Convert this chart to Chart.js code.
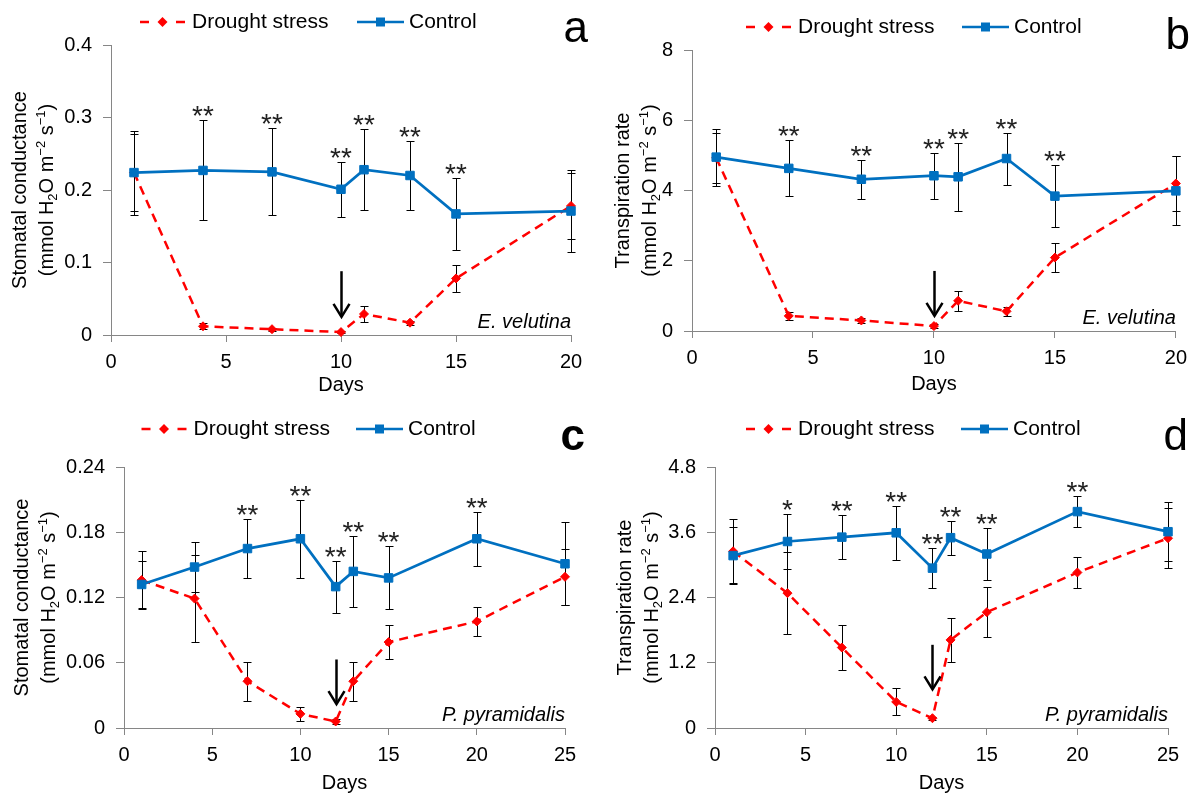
<!DOCTYPE html>
<html><head><meta charset="utf-8">
<script src="https://cdn.jsdelivr.net/npm/chart.js@4.4.1/dist/chart.umd.min.js"></script>
<style>
html,body{margin:0;padding:0;background:#fff;}
body{width:1195px;height:796px;position:relative;overflow:hidden;}
canvas{position:absolute;}
</style></head><body>
<canvas id="ca" width="597" height="398" style="left:0px;top:0px"></canvas>
<canvas id="cb" width="598" height="398" style="left:597px;top:0px"></canvas>
<canvas id="cc" width="597" height="398" style="left:0px;top:398px"></canvas>
<canvas id="cd" width="598" height="398" style="left:597px;top:398px"></canvas>
<script>
// ---------- data ----------
const seriesNames = ['Drought stress', 'Control'];
const xTitle = 'Days';

const daysAB = [1, 4, 7, 10, 11, 13, 15, 20];
const daysCD = [1, 4, 7, 10, 12, 13, 15, 20, 25];

// (a) E. velutina, stomatal conductance
const ctrlA    = [0.224, 0.227, 0.225, 0.201, 0.228, 0.220, 0.167, 0.171];
const ctrlAErr = [0.058, 0.069, 0.060, 0.038, 0.056, 0.048, 0.050, 0.057];
const drA      = [0.224, 0.012, 0.008, 0.004, 0.029, 0.017, 0.078, 0.178];
const drAErr   = [0.053, 0.004, 0.002, 0.001, 0.011, 0.003, 0.018, 0.045];
const sigA     = ['', '**', '**', '**', '**', '**', '**', ''];

// (b) E. velutina, transpiration rate
const ctrlB    = [4.95, 4.63, 4.32, 4.42, 4.39, 4.91, 3.84, 3.99];
const ctrlBErr = [0.81, 0.80, 0.55, 0.65, 0.97, 0.74, 0.89, 0.98];
const drB      = [4.93, 0.43, 0.30, 0.14, 0.86, 0.56, 2.09, 4.20];
const drBErr   = [0.71, 0.12, 0.06, 0.05, 0.28, 0.13, 0.42, 0.78];
const sigB     = ['', '**', '**', '**', '**', '**', '**', ''];

// (c) P. pyramidalis, stomatal conductance
const ctrlC    = [0.132, 0.148, 0.165, 0.174, 0.130, 0.144, 0.138, 0.174, 0.151];
const ctrlCErr = [0.022, 0.023, 0.027, 0.036, 0.024, 0.033, 0.029, 0.025, 0.038];
const drC      = [0.136, 0.119, 0.043, 0.013, 0.006, 0.043, 0.079, 0.098, 0.139];
const drCErr   = [0.027, 0.040, 0.018, 0.0065, 0.002, 0.018, 0.016, 0.013, 0.026];
const sigC     = ['', '', '**', '**', '**', '**', '**', '**', ''];

// (d) P. pyramidalis, transpiration rate
const ctrlD    = [3.17, 3.43, 3.51, 3.59, 2.94, 3.50, 3.20, 3.98, 3.61];
const ctrlDErr = [0.53, 0.51, 0.40, 0.50, 0.37, 0.31, 0.48, 0.29, 0.54];
const drD      = [3.25, 2.48, 1.48, 0.48, 0.18, 1.62, 2.13, 2.86, 3.49];
const drDErr   = [0.59, 0.76, 0.41, 0.25, 0.03, 0.41, 0.46, 0.28, 0.55];
const sigD     = ['', '*', '**', '**', '**', '**', '**', '**', ''];

// tick values / labels
const xTicksAB = [0, 5, 10, 15, 20];
const xTicksCD = [0, 5, 10, 15, 20, 25];
const yTicksA = [0, 0.1, 0.2, 0.3, 0.4];   const yLabelsA = ['0', '0.1', '0.2', '0.3', '0.4'];
const yTicksB = [0, 2, 4, 6, 8];           const yLabelsB = ['0', '2', '4', '6', '8'];
const yTicksC = [0, 0.06, 0.12, 0.18, 0.24]; const yLabelsC = ['0', '0.06', '0.12', '0.18', '0.24'];
const yTicksD = [0, 1.2, 2.4, 3.6, 4.8];   const yLabelsD = ['0', '1.2', '2.4', '3.6', '4.8'];

// arrows marking re-watering: [day, top value, tip value]
const arrowA = [10, 0.088, 0.025];
const arrowB = [10, 1.71, 0.43];
const arrowC = [12, 0.063, 0.022];
const arrowD = [12, 1.53, 0.71];

const titleGs = 'Stomatal conductance';
const titleTr = 'Transpiration rate';
const unitParts = [['(mmol H', 'n'], ['2', 'sub'], ['O m', 'n'], ['\u22122', 'sup'], [' s', 'n'], ['\u22121', 'sup'], [')', 'n']];

// ---------- styling ----------
const FONT = "'Liberation Sans', Arial, Helvetica, sans-serif";
const RED = '#FF0000';
const BLUE = '#0070C0';
const AXIS = '#868686';
Chart.defaults.font.family = FONT;
Chart.defaults.font.size = 20;
Chart.defaults.color = '#000';

function drawErr(chart, xs, ys, errs) {
  const ctx = chart.ctx, X = chart.scales.x, Y = chart.scales.y;
  ctx.save();
  ctx.strokeStyle = '#000'; ctx.lineWidth = 1;
  for (let i = 0; i < xs.length; i++) {
    const px = Math.round(X.getPixelForValue(xs[i])) + 0.5;
    const t = Math.round(Y.getPixelForValue(ys[i] + errs[i])) + 0.5;
    const b = Math.round(Y.getPixelForValue(ys[i] - errs[i])) + 0.5;
    ctx.beginPath();
    ctx.moveTo(px, t); ctx.lineTo(px, b);
    ctx.moveTo(px - 4, t); ctx.lineTo(px + 4, t);
    ctx.moveTo(px - 4, b); ctx.lineTo(px + 4, b);
    ctx.stroke();
  }
  ctx.restore();
}

function richWidth(ctx, parts) {
  let w = 0;
  for (const [t, m] of parts) {
    ctx.font = (m === 'n' ? '20px ' : '13px ') + FONT;
    w += ctx.measureText(t).width;
  }
  return w;
}

function overlay(p) {
  return {
    id: 'ov_' + p.id,
    beforeDatasetsDraw(chart) {
      drawErr(chart, p.days, p.dr, p.drErr);
      drawErr(chart, p.days, p.ctrl, p.ctrlErr);
    },
    afterDraw(chart) {
      const ctx = chart.ctx, X = chart.scales.x, Y = chart.scales.y, ca = chart.chartArea;
      ctx.save();
      // significance stars
      ctx.fillStyle = '#222';
      ctx.font = '28px ' + FONT;
      ctx.textAlign = 'center'; ctx.textBaseline = 'alphabetic';
      for (let i = 0; i < p.days.length; i++) {
        if (!p.sig[i]) continue;
        const px = X.getPixelForValue(p.days[i]);
        const ty = Y.getPixelForValue(p.ctrl[i] + p.ctrlErr[i]);
        ctx.fillText(p.sig[i], px, ty + 5);
      }
      // arrow
      const ax = Math.round(X.getPixelForValue(p.arrow[0])) + 0.5;
      const ay0 = Y.getPixelForValue(p.arrow[1]);
      const ay1 = Y.getPixelForValue(p.arrow[2]);
      ctx.strokeStyle = '#000'; ctx.lineWidth = 2.5; ctx.lineCap = 'butt';
      ctx.beginPath(); ctx.moveTo(ax, ay0); ctx.lineTo(ax, ay1 - 1); ctx.stroke();
      ctx.beginPath(); ctx.moveTo(ax - 8, ay1 - 13); ctx.lineTo(ax, ay1); ctx.lineTo(ax + 8, ay1 - 13); ctx.stroke();
      // species
      ctx.fillStyle = '#000';
      ctx.font = 'italic 20px ' + FONT;
      ctx.textAlign = 'right'; ctx.textBaseline = 'alphabetic';
      ctx.fillText(p.species, ca.right, ca.bottom - 7);
      // panel letter
      ctx.font = (p.letterBold ? 'bold ' : '') + '44px ' + FONT;
      ctx.fillText(p.letter, p.letterX, p.letterY);
      // legend
      const ly = p.legY, x0 = p.legX0, x1 = p.legX1;
      ctx.strokeStyle = RED; ctx.lineWidth = 2.5;
      ctx.beginPath(); ctx.moveTo(x0, ly); ctx.lineTo(x0 + 9, ly); ctx.moveTo(x0 + 36, ly); ctx.lineTo(x0 + 45, ly); ctx.stroke();
      ctx.fillStyle = RED;
      ctx.beginPath(); ctx.moveTo(x0 + 22.5, ly - 5); ctx.lineTo(x0 + 27.5, ly); ctx.lineTo(x0 + 22.5, ly + 5); ctx.lineTo(x0 + 17.5, ly); ctx.closePath(); ctx.fill();
      ctx.strokeStyle = BLUE;
      ctx.beginPath(); ctx.moveTo(x1, ly); ctx.lineTo(x1 + 47, ly); ctx.stroke();
      ctx.fillStyle = BLUE; ctx.fillRect(x1 + 19, ly - 4.5, 9, 9);
      ctx.fillStyle = '#000'; ctx.font = '21px ' + FONT;
      ctx.textAlign = 'left'; ctx.textBaseline = 'middle';
      ctx.fillText(seriesNames[0], x0 + 52, ly);
      ctx.fillText(seriesNames[1], x1 + 52, ly);
      // y title (two lines, rotated)
      ctx.font = '20px ' + FONT;
      const cy = (ca.top + ca.bottom) / 2;
      ctx.save();
      ctx.translate(p.yt1, cy); ctx.rotate(-Math.PI / 2);
      ctx.textAlign = 'center'; ctx.textBaseline = 'middle';
      ctx.fillText(p.ytitle, 0, 0);
      ctx.restore();
      ctx.save();
      ctx.translate(p.yt2, cy); ctx.rotate(-Math.PI / 2);
      ctx.textAlign = 'left'; ctx.textBaseline = 'middle';
      let cx = -richWidth(ctx, unitParts) / 2;
      for (const [t, m] of unitParts) {
        ctx.font = (m === 'n' ? '20px ' : '13px ') + FONT;
        const dy = m === 'sub' ? 6 : (m === 'sup' ? -6 : 0);
        ctx.fillText(t, cx, dy);
        cx += ctx.measureText(t).width;
      }
      ctx.restore();
      ctx.restore();
    }
  };
}

function makePanel(p) {
  const datasets = [
    {
      label: seriesNames[1],
      data: p.days.map((d, i) => ({ x: d, y: p.ctrl[i] })),
      borderColor: BLUE, backgroundColor: BLUE, borderWidth: 2.75,
      pointStyle: 'rect', pointRadius: 6, pointBorderWidth: 1, pointBorderColor: BLUE,
      tension: 0, order: 1, clip: false
    },
    {
      label: seriesNames[0],
      data: p.days.map((d, i) => ({ x: d, y: p.dr[i] })),
      borderColor: RED, backgroundColor: RED, borderWidth: 2.5, borderDash: [9, 6],
      pointStyle: 'rectRot', pointRadius: 4.5, pointBorderWidth: 1, pointBorderColor: RED,
      tension: 0, order: 2, clip: false
    }
  ];
  new Chart(document.getElementById(p.id), {
    type: 'line',
    data: { datasets },
    options: {
      responsive: false, animation: false, devicePixelRatio: 1,
      layout: { padding: { top: p.padTop, right: p.padRight, bottom: 0, left: 0 } },
      plugins: { legend: { display: false }, tooltip: { enabled: false } },
      scales: {
        x: {
          type: 'linear', min: 0, max: p.xTicks[p.xTicks.length - 1],
          afterBuildTicks: s => { s.ticks = p.xTicks.map(v => ({ value: v })); },
          ticks: { callback: (v, i) => String(p.xTicks[i]), padding: 8, color: '#000', font: { size: 20 }, maxRotation: 0, autoSkip: false },
          grid: { drawOnChartArea: false, drawTicks: true, tickLength: 7, color: AXIS },
          border: { display: true, color: AXIS, width: 1 },
          title: { display: true, text: xTitle, padding: { top: 0, bottom: p.xtPad }, font: { size: 20 }, color: '#000' },
          afterFit: s => { s.height = p.xHeight; }
        },
        y: {
          type: 'linear', min: 0, max: p.yTicks[p.yTicks.length - 1],
          afterBuildTicks: s => { s.ticks = p.yTicks.map(v => ({ value: v })); },
          ticks: { callback: (v, i) => p.yLabels[i], padding: 11, color: '#000', font: { size: 20 }, autoSkip: false },
          grid: { drawOnChartArea: false, drawTicks: true, tickLength: 8, color: AXIS },
          border: { display: true, color: AXIS, width: 1 },
          afterFit: s => { s.width = p.yWidth; }
        }
      }
    },
    plugins: [overlay(p)]
  });
}

makePanel({ id: 'ca', days: daysAB, ctrl: ctrlA, ctrlErr: ctrlAErr, dr: drA, drErr: drAErr, sig: sigA,
  xTicks: xTicksAB, yTicks: yTicksA, yLabels: yLabelsA, arrow: arrowA,
  padTop: 45, padRight: 26, yWidth: 111, xHeight: 63, xtPad: 1,
  yt1: 20, yt2: 47, ytitle: titleGs, legX0: 140, legX1: 357, legY: 22,
  species: 'E. velutina', letter: 'a', letterX: 588, letterY: 42 });

makePanel({ id: 'cb', days: daysAB, ctrl: ctrlB, ctrlErr: ctrlBErr, dr: drB, drErr: drBErr, sig: sigB,
  xTicks: xTicksAB, yTicks: yTicksB, yLabels: yLabelsB, arrow: arrowB,
  padTop: 50, padRight: 19, yWidth: 95, xHeight: 67, xtPad: 2,
  yt1: 26.5, yt2: 53.5, ytitle: titleTr, legX0: 149, legX1: 365, legY: 27,
  species: 'E. velutina', letter: 'b', letterX: 593, letterY: 49 });

makePanel({ id: 'cc', days: daysCD, ctrl: ctrlC, ctrlErr: ctrlCErr, dr: drC, drErr: drCErr, sig: sigC,
  xTicks: xTicksCD, yTicks: yTicksC, yLabels: yLabelsC, arrow: arrowC,
  padTop: 69, padRight: 32, yWidth: 124, xHeight: 68, xtPad: 1,
  yt1: 22, yt2: 49.5, ytitle: titleGs, legX0: 141.5, legX1: 356, legY: 31,
  species: 'P. pyramidalis', letter: 'c', letterBold: true, letterX: 585, letterY: 52 });

makePanel({ id: 'cd', days: daysCD, ctrl: ctrlD, ctrlErr: ctrlDErr, dr: drD, drErr: drDErr, sig: sigD,
  xTicks: xTicksCD, yTicks: yTicksD, yLabels: yLabelsD, arrow: arrowD,
  padTop: 69, padRight: 27, yWidth: 118, xHeight: 68, xtPad: 1,
  yt1: 28.5, yt2: 55, ytitle: titleTr, legX0: 149, legX1: 364, legY: 31,
  species: 'P. pyramidalis', letter: 'd', letterX: 591, letterY: 52 });
</script>
</body></html>
